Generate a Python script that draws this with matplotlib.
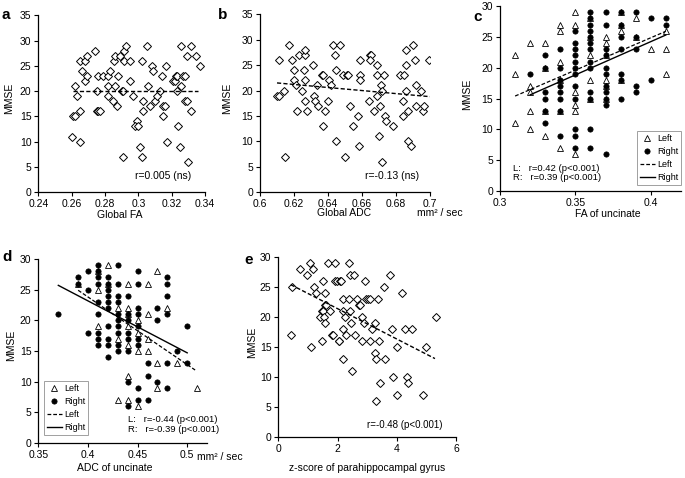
import matplotlib
matplotlib.use('Agg')
from matplotlib import pyplot as plt
from matplotlib.lines import Line2D

plt.rcParams['font.family'] = ['Liberation Sans', 'DejaVu Sans']
plt.rcParams['font.size'] = 7.5

# ---- panel a: global FA vs MMSE
fa_global = [0.260, 0.265, 0.261, 0.262, 0.265, 0.263, 0.262, 0.266, 0.265, 0.268,
             0.269, 0.268, 0.269, 0.274, 0.275, 0.275, 0.276, 0.277, 0.276, 0.279,
             0.282, 0.283, 0.282, 0.282, 0.285, 0.287, 0.286, 0.2855, 0.286, 0.2875,
             0.289, 0.290, 0.291, 0.2915, 0.2915, 0.2925, 0.295, 0.295, 0.297, 0.299,
             0.298, 0.300, 0.2905, 0.301, 0.302, 0.302, 0.303, 0.303, 0.305, 0.306,
             0.307, 0.308, 0.309, 0.310, 0.311, 0.313, 0.314, 0.315, 0.315, 0.316,
             0.3165, 0.317, 0.321, 0.322, 0.3225, 0.323, 0.323, 0.324, 0.325, 0.3257,
             0.3257, 0.327, 0.328, 0.328, 0.329, 0.3295, 0.330, 0.3315, 0.3315, 0.3345,
             0.3368]
mmse_a = [11, 10, 15, 15, 16, 19, 21, 24, 26, 26,
          27, 22, 23, 28, 20, 16, 16, 16, 23, 23,
          23, 24, 21, 19, 18, 17, 21, 26, 27, 23,
          27, 20, 20, 26, 28, 29, 26, 22, 19, 14,
          13, 13, 7, 9, 7, 26, 18, 16, 29, 21,
          17, 25, 24, 18, 19, 20, 23, 15, 17, 17,
          25, 10, 22, 22, 23, 23, 20, 13, 9, 29,
          21, 23, 23, 18, 18, 27, 6, 29, 16, 27,
          25]
fit_a_x = [0.261, 0.336]
fit_a_y = [20.1, 20.1]

# ---- panel b: global ADC vs MMSE
adc_global = [0.6099, 0.611, 0.611, 0.614, 0.6148, 0.6168, 0.619, 0.620, 0.620, 0.621,
              0.622, 0.623, 0.625, 0.626, 0.6262, 0.6266, 0.6266, 0.6266, 0.6276, 0.631,
              0.6316, 0.6325, 0.6335, 0.634, 0.6365, 0.637, 0.637, 0.638, 0.6404, 0.640,
              0.642, 0.643, 0.644, 0.645, 0.645, 0.647, 0.649, 0.650, 0.651, 0.652,
              0.653, 0.655, 0.6576, 0.658, 0.6586, 0.6588, 0.6588, 0.664, 0.6645, 0.6655,
              0.6645, 0.667, 0.669, 0.669, 0.669, 0.670, 0.6705, 0.671, 0.672, 0.672,
              0.673, 0.6735, 0.674, 0.678, 0.6825, 0.6845, 0.684, 0.684, 0.686, 0.686,
              0.686, 0.687, 0.687, 0.689, 0.690, 0.691, 0.692, 0.692, 0.695, 0.696,
              0.6966, 0.6996]
mmse_b = [19, 19, 26, 20, 7, 29, 26, 24, 22, 21,
          16, 27, 20, 24, 27, 28, 22, 18, 16, 25,
          19, 18, 21, 17, 23, 23, 13, 16, 22, 18,
          21, 29, 27, 24, 10, 29, 23, 7, 23, 23,
          17, 13, 15, 9, 26, 23, 22, 18, 27, 27,
          26, 16, 19, 25, 23, 11, 17, 21, 20, 6,
          23, 15, 14, 13, 23, 23, 18, 15, 25, 28,
          20, 16, 10, 9, 29, 26, 21, 17, 20, 16,
          17, 26]
fit_b_x = [0.61, 0.70]
fit_b_y = [21.5, 18.8]

# ---- panel c: FA of uncinate vs MMSE (left / right)
c_left = {0.31: [22, 19, 11], 0.32: [24, 17, 16, 13, 10], 0.33: [24, 20, 13, 9],
          0.34: [27, 26, 21, 18, 13, 7], 0.35: [29, 27, 16, 14, 13, 6],
          0.36: [28, 25, 22, 18, 15], 0.37: [25, 24, 22, 18, 17, 15],
          0.38: [29, 27, 26, 18], 0.39: [28, 25], 0.40: [23], 0.41: [26, 23, 19]}
c_right = {0.32: [19], 0.33: [22, 20, 16, 15, 13, 11],
           0.34: [23, 20, 18, 17, 16, 15, 13, 9],
           0.35: [26, 24, 23, 22, 21, 20, 19, 17, 15, 10, 9, 7],
           0.36: [29, 28, 27, 26, 25, 24, 23, 21, 20, 16, 15, 10, 7],
           0.37: [29, 27, 23, 22, 20, 19, 17, 16, 15, 14, 6],
           0.38: [29, 27, 25, 23, 19, 18, 15], 0.39: [29, 25, 23, 17, 16],
           0.40: [28, 18], 0.41: [28, 27]}
fit_c_left_x = [0.31, 0.41]
fit_c_left_y = [15.4, 25.9]
fit_c_right_x = [0.32, 0.41]
fit_c_right_y = [15.6, 25.3]

# ---- panel d: ADC of uncinate vs MMSE (left / right)
d_left = {0.39: [26], 0.41: [28, 25, 19], 0.42: [29, 26], 0.43: [22, 17, 7],
          0.44: [26, 22, 21, 19, 16, 11, 7], 0.45: [20, 18, 15, 6],
          0.46: [26, 21, 17, 15], 0.47: [28, 13, 9], 0.48: [22], 0.49: [13], 0.51: [9]}
d_right = {0.37: [21], 0.39: [27, 26], 0.40: [28, 25, 18],
           0.41: [29, 28, 27, 26, 23, 21, 18, 17, 16],
           0.42: [27, 26, 25, 24, 23, 22, 19, 17, 16, 14],
           0.43: [29, 26, 24, 23, 21, 20, 19, 18, 16, 15],
           0.44: [24, 21, 20, 18, 17, 15, 10, 6],
           0.45: [28, 26, 22, 21, 19, 17, 16, 9, 7],
           0.46: [13, 11, 7], 0.47: [22, 20, 10], 0.48: [27, 26, 24, 21, 13, 9],
           0.49: [15], 0.50: [19, 13]}
fit_d_left_x = [0.39, 0.508]
fit_d_left_y = [24.9, 11.9]
fit_d_right_x = [0.37, 0.50]
fit_d_right_y = [25.7, 14.7]

# ---- panel e: z-score of parahippocampal gyrus vs MMSE
zscore = [0.42, 0.45, 0.74, 0.96, 1.08, 1.16, 1.10, 1.22, 1.27, 1.42,
          1.47, 1.50, 1.55, 1.50, 1.47, 1.58, 1.58, 1.60, 1.58, 1.68,
          1.76, 1.80, 1.84, 1.90, 1.92, 1.98, 2.04, 2.04, 2.08, 2.13,
          2.17, 2.17, 2.20, 2.24, 2.20, 2.27, 2.38, 2.40, 2.41, 2.43,
          2.47, 2.49, 2.55, 2.58, 2.66, 2.74, 2.76, 2.81, 2.83, 2.89,
          2.92, 2.97, 3.04, 3.08, 3.08, 3.17, 3.26, 3.26, 3.31, 3.31,
          3.38, 3.40, 3.42, 3.60, 3.57, 3.76, 3.85, 3.88, 4.02, 4.02,
          4.19, 4.27, 4.34, 4.39, 4.53, 4.87, 4.98, 5.32]
mmse_e = [17, 25, 28, 27, 29, 28, 15, 25, 24, 20,
          21, 21, 20, 26, 16, 24, 22, 22, 19, 29,
          21, 17, 17, 29, 26, 26, 16, 16, 26, 26,
          13, 23, 18, 20, 21, 17, 29, 23, 21, 27,
          19, 11, 27, 17, 23, 22, 22, 16, 20, 19,
          26, 23, 23, 23, 16, 18, 19, 14, 13, 6,
          23, 16, 9, 13, 25, 27, 18, 10, 15, 7,
          24, 18, 10, 9, 18, 7, 15, 20]
fit_e_x = [0.42, 5.29]
fit_e_y = [25.4, 13.1]


def flatten(groups):
    xs, ys = [], []
    for x, vals in groups.items():
        for v in vals:
            xs.append(x)
            ys.append(v)
    return xs, ys


def style(ax, xlim, xticks, ylim, yticks):
    ax.set_xlim(*xlim)
    ax.set_ylim(*ylim)
    ax.set_xticks(xticks)
    ax.set_xticklabels(['%g' % t for t in xticks])
    ax.set_yticks(yticks)
    for s in ('top', 'right'):
        ax.spines[s].set_visible(False)
    for s in ('left', 'bottom'):
        ax.spines[s].set_linewidth(0.9)
    ax.tick_params(direction='out', length=3, width=0.8, pad=2, labelsize=7.5)


dash = (0, (3, 1.6))
diamond = dict(ls='none', marker='D', ms=4.2, mfc='white', mec='black', mew=0.7)
tri = dict(ls='none', marker='^', ms=4.6, mfc='none', mec='black', mew=0.6)
dot = dict(ls='none', marker='o', ms=3.8, mfc='black', mec='black', mew=0.5)

fig = plt.figure(figsize=(6.85, 4.78), dpi=100)

# a
ax = fig.add_axes([0.0562, 0.598, 0.243, 0.370])
ax.plot(fa_global, mmse_a, **diamond)
ax.plot(fit_a_x, fit_a_y, color='black', lw=1.0, ls=dash)
style(ax, (0.24, 0.34), [0.24, 0.26, 0.28, 0.30, 0.32, 0.34], (0, 35), range(0, 36, 5))
ax.set_xlabel('Global FA')
ax.xaxis.set_label_coords(0.49, -0.10)
ax.set_ylabel('MMSE')
ax.yaxis.set_label_coords(-0.147, 0.53)
ax.text(0.748, 0.09, 'r=0.005 (ns)', transform=ax.transAxes, ha='center', va='center')

# b
ax = fig.add_axes([0.3796, 0.598, 0.248, 0.372])
ax.plot(adc_global, mmse_b, **diamond)
ax.plot(fit_b_x, fit_b_y, color='black', lw=1.0, ls=dash)
style(ax, (0.6, 0.7), [0.60, 0.62, 0.64, 0.66, 0.68, 0.70], (0, 35), range(0, 36, 5))
ax.set_xlabel('Global ADC')
ax.xaxis.set_label_coords(0.494, -0.09)
ax.set_ylabel('MMSE')
ax.yaxis.set_label_coords(-0.165, 0.53)
ax.text(0.78, 0.09, 'r=-0.13 (ns)', transform=ax.transAxes, ha='center', va='center')
ax.text(1.06, -0.118, 'mm² / sec', transform=ax.transAxes, ha='center', va='center')

# c
ax = fig.add_axes([0.730, 0.6004, 0.264, 0.387])
xl, yl = flatten(c_left)
xr, yr = flatten(c_right)
ax.plot(xr, yr, **dot)
ax.plot(xl, yl, **tri)
ax.plot(fit_c_left_x, fit_c_left_y, color='black', lw=0.9, ls=dash)
ax.plot(fit_c_right_x, fit_c_right_y, color='black', lw=1.0)
style(ax, (0.3, 0.42), [0.30, 0.35, 0.40], (0, 30), range(0, 31, 5))
ax.set_xlabel('FA of uncinate')
ax.xaxis.set_label_coords(0.597, -0.097)
ax.set_ylabel('MMSE')
ax.yaxis.set_label_coords(-0.155, 0.52)
ax.text(0.072, 0.124, 'L:   r=0.42 (p<0.001)', transform=ax.transAxes, ha='left', va='center', fontsize=6.8)
ax.text(0.072, 0.074, 'R:   r=0.39 (p<0.001)', transform=ax.transAxes, ha='left', va='center', fontsize=6.8)
handles = [Line2D([], [], **tri), Line2D([], [], **dot),
           Line2D([], [], color='black', lw=0.9, ls=dash), Line2D([], [], color='black', lw=1.0)]
leg = ax.legend(handles, ['Left', 'Right', 'Left', 'Right'], loc='lower left',
                bbox_to_anchor=(0.757, 0.032, 0.243, 0.31), mode='expand', fontsize=6.5,
                frameon=True, fancybox=False, edgecolor='#888888', handlelength=1.6,
                handletextpad=0.3, labelspacing=0.45, borderpad=0.35, borderaxespad=0)
leg.get_frame().set_linewidth(0.7)

# d
ax = fig.add_axes([0.0562, 0.0732, 0.246, 0.385])
xl, yl = flatten(d_left)
xr, yr = flatten(d_right)
ax.plot(xr, yr, **dot)
ax.plot(xl, yl, **tri)
ax.plot(fit_d_left_x, fit_d_left_y, color='black', lw=0.9, ls=dash)
ax.plot(fit_d_right_x, fit_d_right_y, color='black', lw=1.0)
style(ax, (0.35, 0.52), [0.35, 0.40, 0.45, 0.50], (0, 30), range(0, 31, 5))
ax.set_xlabel('ADC of uncinate')
ax.xaxis.set_label_coords(0.45, -0.108)
ax.set_ylabel('MMSE')
ax.yaxis.set_label_coords(-0.134, 0.53)
ax.text(0.531, 0.128, 'L:   r=-0.44 (p<0.001)', transform=ax.transAxes, ha='left', va='center', fontsize=6.8)
ax.text(0.531, 0.075, 'R:   r=-0.39 (p<0.001)', transform=ax.transAxes, ha='left', va='center', fontsize=6.8)
ax.text(1.077, -0.076, 'mm² / sec', transform=ax.transAxes, ha='center', va='center')
leg = ax.legend(handles, ['Left', 'Right', 'Left', 'Right'], loc='lower left',
                bbox_to_anchor=(0.033, 0.043, 0.26, 0.33), mode='expand', fontsize=6.5,
                frameon=True, fancybox=False, edgecolor='#888888', handlelength=1.6,
                handletextpad=0.3, labelspacing=0.45, borderpad=0.35, borderaxespad=0)
leg.get_frame().set_linewidth(0.7)

# e
ax = fig.add_axes([0.4063, 0.0851, 0.2594, 0.3772])
ax.plot(zscore, mmse_e, **diamond)
ax.plot(fit_e_x, fit_e_y, color='black', lw=1.0, ls=dash)
style(ax, (0, 6), [0, 2, 4, 6], (0, 30), range(0, 31, 5))
ax.set_xlabel('z-score of parahippocampal gyrus')
ax.xaxis.set_label_coords(0.5, -0.14)
ax.set_ylabel('MMSE')
ax.yaxis.set_label_coords(-0.12, 0.525)
ax.text(0.713, 0.069, 'r=-0.48 (p<0.001)', transform=ax.transAxes, ha='center', va='center', fontsize=7)

# panel letters
for lbl, x, y in [('a', 6, 15), ('b', 223, 15), ('c', 478, 17), ('d', 7, 257), ('e', 249, 260)]:
    fig.text(x / 685, 1 - y / 478, lbl, fontsize=11, fontweight='bold', ha='center', va='center')

fig.savefig('out.png', dpi=100)
